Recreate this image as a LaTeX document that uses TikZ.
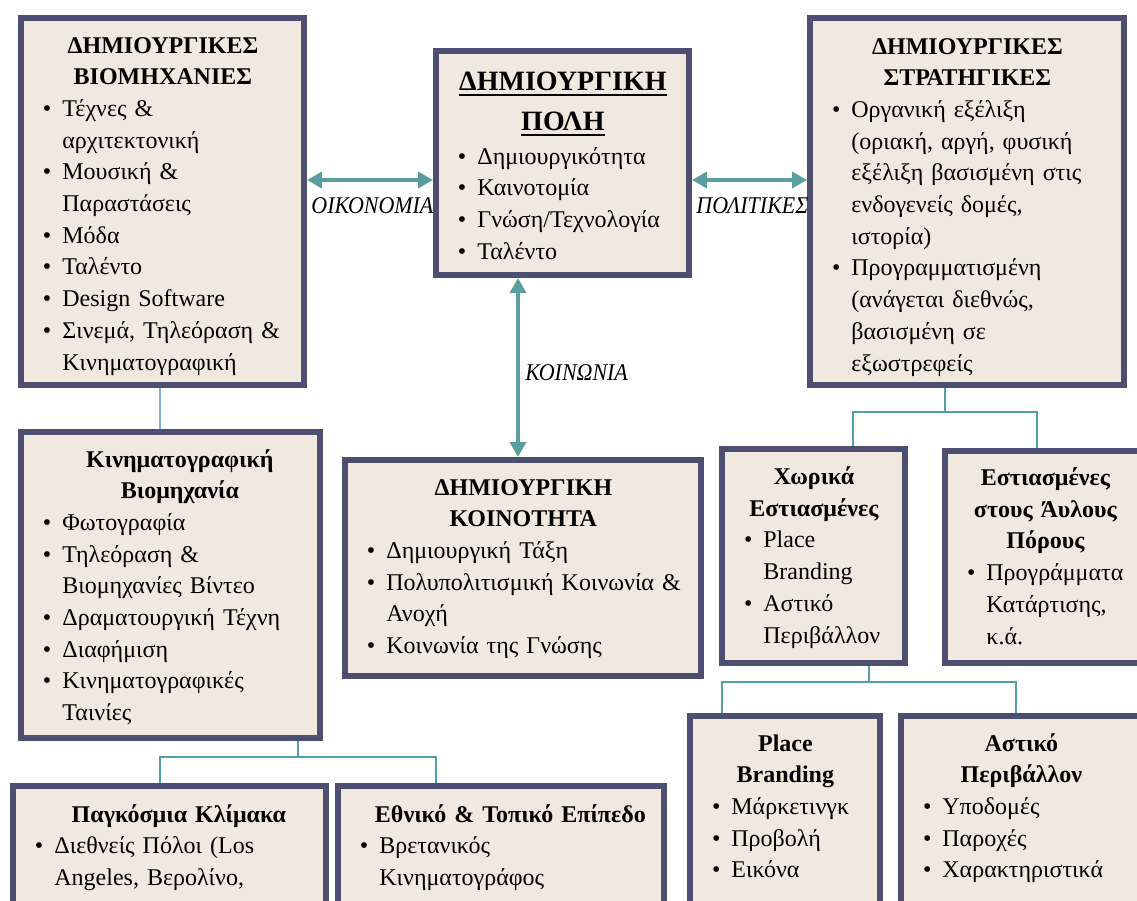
\documentclass[tikz,border=0pt]{standalone}
\usepackage{graphicx}
\usepackage{fontspec}
\setmainfont{Liberation Serif}
\usetikzlibrary{arrows.meta}
\newcommand{\ttl}[2][0pt]{{\centering\advance\leftskip by #1\bfseries #2\par}}
\newcommand{\itm}[1]{{\raggedright\leftskip=19pt\noindent\llap{\textbullet\hspace{5.5pt}}#1\par}}
\newcommand{\undl}[1]{\leavevmode\setbox0=\hbox{#1}\rlap{\rule[-3.1pt]{\wd0}{1.2pt}}\box0}
\newcommand{\narrow}[1]{\scalebox{0.915}[1]{#1}}
\begin{document}
\begin{tikzpicture}[x=0.5pt,y=0.5pt,yscale=-1,xscale=1,
  box/.style={draw={rgb,255:red,78;green,78;blue,112}, fill={rgb,255:red,241;green,233;blue,223}, line width=3pt, inner sep=0pt, anchor=north west},
  txt/.style={inner sep=0pt, anchor=base west, font=\fontsize{12}{15.85}\selectfont},
  lab/.style={inner sep=0pt, anchor=base west, font=\fontsize{12}{14}\selectfont\itshape},
  arr/.style={draw={rgb,255:red,92;green,158;blue,160}, line width=2pt, {Triangle[length=7.5pt,width=8pt]}-{Triangle[length=7.5pt,width=8pt]}},
  link/.style={draw={rgb,255:red,80;green,160;blue,165}, line width=1.25pt},
  thinlink/.style={draw={rgb,255:red,130;green,175;blue,225}, line width=0.8pt}]
\useasboundingbox (0,0) rectangle (1137,901);
\clip (0,0) rectangle (1137,901);

%Shape: Rectangle
\node[box, minimum width=141.5pt, minimum height=183.5pt] (ind) at (18,15) {};
%Shape: Rectangle
\node[box, minimum width=126.5pt, minimum height=112pt] (city) at (433,48) {};
%Shape: Rectangle
\node[box, minimum width=157pt, minimum height=183.5pt] (strat) at (807,15) {};
%Shape: Rectangle
\node[box, minimum width=149.5pt, minimum height=153pt] (film) at (18,429) {};
%Shape: Rectangle
\node[box, minimum width=178pt, minimum height=108pt] (comm) at (342,457) {};
%Shape: Rectangle
\node[box, minimum width=91.5pt, minimum height=107pt] (spatial) at (719,446) {};
%Shape: Rectangle
\node[box, minimum width=100pt, minimum height=106pt] (intang) at (942,448) {};
%Shape: Rectangle
\node[box, minimum width=156.5pt, minimum height=100pt] (glob) at (10,783) {};
%Shape: Rectangle
\node[box, minimum width=163pt, minimum height=100pt] (nat) at (335,783) {};
%Shape: Rectangle
\node[box, minimum width=95pt, minimum height=120pt] (place) at (687,713) {};
%Shape: Rectangle
\node[box, minimum width=124pt, minimum height=120pt] (urban) at (898,713) {};

% Text Node
\node[txt, text width=138.5pt] (ind-t) at (24,53) {\ttl{ΔΗΜΙΟΥΡΓΙΚΕΣ\\ΒΙΟΜΗΧΑΝΙΕΣ}\itm{Τέχνες \&\\αρχιτεκτονική}\itm{Μουσική \&\\Παραστάσεις}\itm{Μόδα}\itm{Ταλέντο}\itm{Design Software}\itm{Σινεμά, Τηλεόραση \&\\Κινηματογραφική}};
% Text Node
\node[txt, text width=123.5pt] (city-t) at (439,90) {\ttl{\fontsize{14}{20}\selectfont\undl{ΔΗΜΙΟΥΡΓΙΚΗ}\\\undl{ΠΟΛΗ}}\vspace{1.15pt}\itm{Δημιουργικότητα}\itm{Καινοτομία}\itm{Γνώση/Τεχνολογία}\itm{Ταλέντο}};
% Text Node
\node[txt, text width=154pt] (strat-t) at (813,54) {\ttl{ΔΗΜΙΟΥΡΓΙΚΕΣ\\ΣΤΡΑΤΗΓΙΚΕΣ}\itm{Οργανική εξέλιξη\\(οριακή, αργή, φυσική\\εξέλιξη βασισμένη στις\\ενδογενείς δομές,\\ιστορία)}\itm{Προγραμματισμένη\\(ανάγεται διεθνώς,\\βασισμένη σε\\εξωστρεφείς}};
% Text Node
\node[txt, text width=146.5pt] (film-t) at (24,467) {\ttl[9pt]{Κινηματογραφική\\Βιομηχανία}\itm{Φωτογραφία}\itm{Τηλεόραση \&\\Βιομηχανίες Βίντεο}\itm{Δραματουργική Τέχνη}\itm{Διαφήμιση}\itm{Κινηματογραφικές\\Ταινίες}};
% Text Node
\node[txt, text width=175pt] (comm-t) at (348,495) {\ttl{ΔΗΜΙΟΥΡΓΙΚΗ\\ΚΟΙΝΟΤΗΤΑ}\itm{Δημιουργική Τάξη}\itm{Πολυπολιτισμική Κοινωνία \&\\Ανοχή}\itm{Κοινωνία της Γνώσης}};
% Text Node
\node[txt, text width=88.5pt] (spatial-t) at (725,484.5) {\ttl{Χωρικά\\Εστιασμένες}\itm{Place\\Branding}\itm{Αστικό\\Περιβάλλον}};
% Text Node
\node[txt, text width=97pt] (intang-t) at (948,485.5) {\ttl{Εστιασμένες\\στους Άυλους\\Πόρους}\itm{Προγράμματα\\Κατάρτισης,\\κ.ά.}};
% Text Node
\node[txt, text width=153.5pt] (glob-t) at (16,822) {\ttl[9pt]{Παγκόσμια Κλίμακα}\itm{Διεθνείς Πόλοι (Los\\Angeles, Βερολίνο,}};
% Text Node
\node[txt, text width=160pt] (nat-t) at (341,822) {\ttl[9pt]{Εθνικό \& Τοπικό Επίπεδο}\itm{Βρετανικός\\Κινηματογράφος}};
% Text Node
\node[txt, text width=92pt] (place-t) at (693,751) {\ttl{Place\\Branding}\itm{Μάρκετινγκ}\itm{Προβολή}\itm{Εικόνα}};
% Text Node
\node[txt, text width=117pt] (urban-t) at (904,751) {\ttl{Αστικό\\Περιβάλλον}\itm{Υποδομές}\itm{Παροχές}\itm{Χαρακτηριστικά}};

\coordinate (arr-y) at (0,180);
\coordinate (soc-x) at (518,0);

%Straight Lines
\draw[arr] (ind.east |- arr-y) -- (city.west |- arr-y);
\draw[arr] (city.east |- arr-y) -- (strat.west |- arr-y);
\draw[arr] (city.south -| soc-x) -- (comm.north -| soc-x);

%Straight Lines
\draw[thinlink] ([xshift=-1.25pt]ind.south) -- ([xshift=-5.25pt]film.north);
\draw[link] ([xshift=63.75pt]film.south) -- ++(0,16) -| ([xshift=-4.75pt]glob.north);
\draw[link] ([xshift=63.75pt]film.south) ++(0,16) -| ([xshift=-32.5pt]nat.north);
\draw[link] ([xshift=-11pt]strat.south) -- ++(0,24) -| ([xshift=19.75pt]spatial.north);
\draw[link] ([xshift=-11pt]strat.south) ++(0,24) -| ([xshift=-4pt]intang.north);
\draw[link] ([xshift=27.75pt]spatial.south) -- ++(0,16) -| ([xshift=-31.5pt]place.north);
\draw[link] ([xshift=27.75pt]spatial.south) ++(0,16) -| ([xshift=-4.5pt]urban.north);

% Text Node
\node[lab] (econ-l) at (311,213) {\narrow{ΟΙΚΟΝΟΜΙΑ}};
% Text Node
\node[lab] (pol-l) at (696,213) {\narrow{ΠΟΛΙΤΙΚΕΣ}};
% Text Node
\node[lab] (soc-l) at (525,380) {\narrow{ΚΟΙΝΩΝΙΑ}};

\end{tikzpicture}
\end{document}
